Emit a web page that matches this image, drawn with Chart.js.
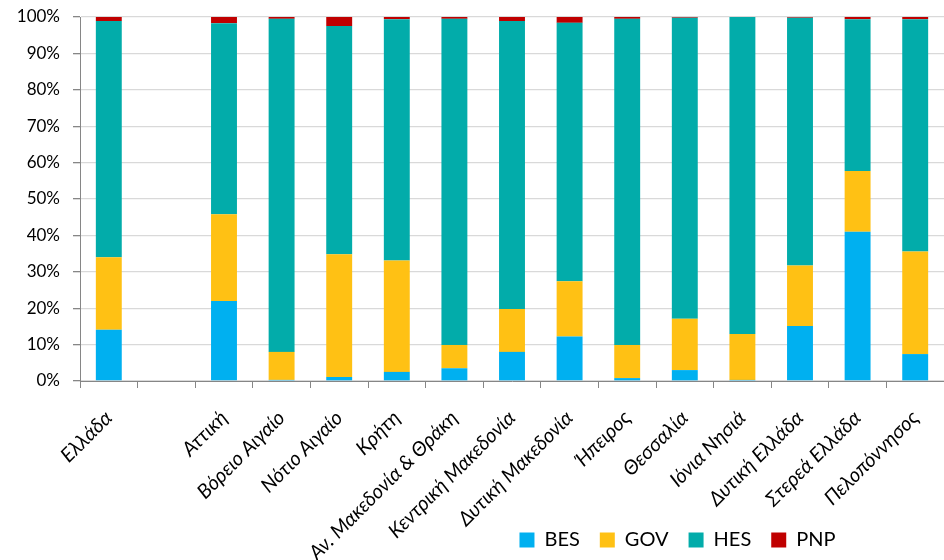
<!DOCTYPE html>
<html>
<head>
<meta charset="utf-8">
<script src="https://cdn.jsdelivr.net/npm/chart.js@4/dist/chart.umd.min.js"></script>
<style>
  html, body { margin: 0; padding: 0; background: #ffffff; }
  #wrap { width: 944px; height: 560px; }
</style>
</head>
<body>
<div id="wrap"><canvas id="c" width="944" height="560"></canvas></div>
<script>
const categories = ['Ελλάδα', '', 'Αττική', 'Βόρειο Αιγαίο', 'Νότιο Αιγαίο', 'Κρήτη',
  'Αν. Μακεδονία & Θράκη', 'Κεντρική Μακεδονία', 'Δυτική Μακεδονία', 'Ήπειρος',
  'Θεσσαλία', 'Ιόνια Νησιά', 'Δυτική Ελλάδα', 'Στερεά Ελλάδα', 'Πελοπόννησος'];
const BES = [14.1, null, 22.0, 0.3, 1.1, 2.5, 3.5, 8.0, 12.2, 0.8, 3.0, 0.3, 15.1, 41.0, 7.4];
const GOV = [19.9, null, 23.8, 7.7, 33.7, 30.6, 6.4, 11.8, 15.2, 9.1, 14.1, 12.6, 16.6, 16.7, 28.2];
const HES = [64.9, null, 52.5, 91.5, 62.7, 66.3, 89.6, 79.1, 71.0, 89.6, 82.7, 87.1, 68.1, 41.7, 63.8];
const PNP = [1.1, null, 1.7, 0.5, 2.5, 0.6, 0.5, 1.1, 1.6, 0.5, 0.2, 0.0, 0.2, 0.6, 0.6];
const yTickValues = [0, 10, 20, 30, 40, 50, 60, 70, 80, 90, 100];

const FONT = 'Lato, "Open Sans", "DejaVu Sans", sans-serif';

// Legend sits in the lower right; the rotated x labels may run down past the axis box
const layoutTweak = {
  id: 'layoutTweak',
  afterLayout(chart) {
    const lg = chart.legend;
    if (lg) {
      lg.left = 417;
      lg.right = 938;
    }
    const x = chart.scales.x;
    if (x) x.bottom = chart.height;
  }
};

function ds(label, data, color) {
  return {
    label, data,
    backgroundColor: color,
    borderWidth: 0,
    barPercentage: 0.45,
    categoryPercentage: 1.0
  };
}

new Chart(document.getElementById('c'), {
  type: 'bar',
  data: {
    labels: categories,
    datasets: [
      ds('BES', BES, '#00B0F0'),
      ds('GOV', GOV, '#FFC114'),
      ds('HES', HES, '#02ACAA'),
      ds('PNP', PNP, '#C00000')
    ]
  },
  options: {
    responsive: false,
    devicePixelRatio: 1,
    animation: false,
    layout: { padding: { top: 17, left: 0, right: 0, bottom: 0 } },
    plugins: {
      tooltip: { enabled: false },
      legend: {
        position: 'bottom',
        align: 'center',
        labels: {
          boxWidth: 15,
          boxHeight: 15,
          padding: 20,
          color: '#000000',
          font: { family: FONT, size: 20 }
        }
      }
    },
    scales: {
      x: {
        stacked: true,
        offset: true,
        afterFit(scale) {
          scale.height = 129;
          scale.paddingLeft = 0;
          scale.paddingRight = 0;
        },
        grid: {
          offset: true,
          drawOnChartArea: false,
          drawTicks: true,
          tickLength: 7,
          color: '#868686',
          tickColor: '#868686'
        },
        border: { display: true, color: '#868686', width: 1 },
        ticks: {
          autoSkip: false,
          maxRotation: 45,
          minRotation: 45,
          padding: 18,
          color: '#000000',
          font: { family: FONT, size: 20, style: 'italic' }
        }
      },
      y: {
        stacked: true,
        min: 0,
        max: 100,
        afterFit(scale) {
          scale.width = 80;
          scale.paddingTop = 0;
          scale.paddingBottom = 0;
        },
        afterBuildTicks(scale) { scale.ticks = yTickValues.map(v => ({ value: v })); },
        grid: {
          color: '#D9D9D9',
          lineWidth: 1.3,
          tickLength: 7,
          tickColor: '#868686'
        },
        border: { display: true, color: '#868686', width: 1 },
        ticks: {
          padding: 13,
          color: '#000000',
          font: { family: FONT, size: 17 },
          callback: v => v + '%'
        }
      }
    }
  },
  plugins: [layoutTweak]
});
</script>
</body>
</html>
